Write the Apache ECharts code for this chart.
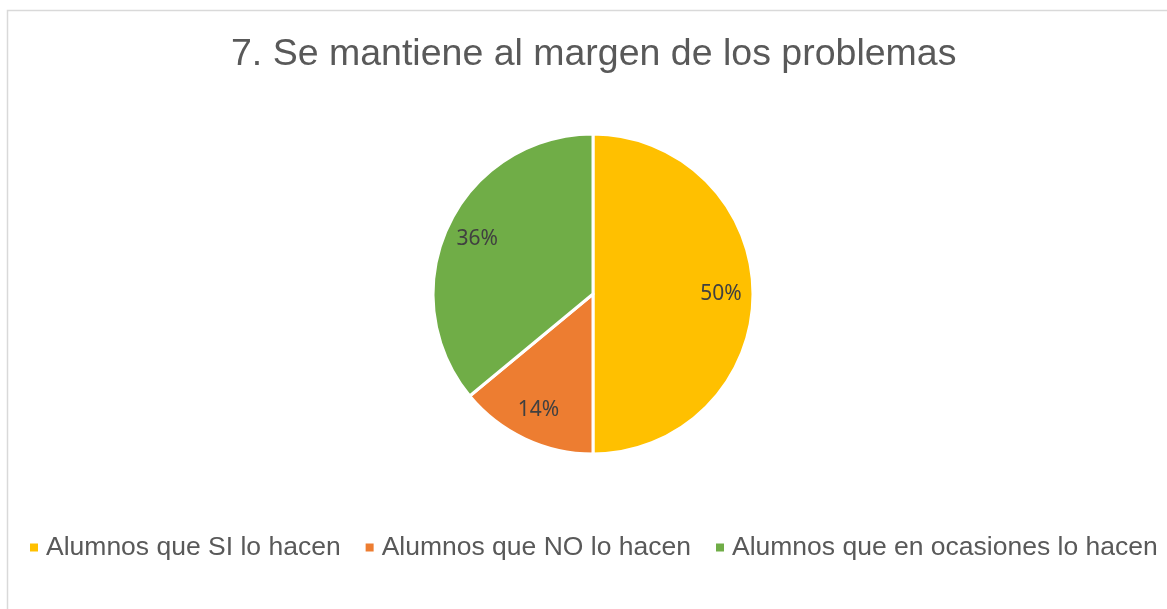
<!DOCTYPE html>
<html lang="es">
<head>
    <meta charset="UTF-8">
    <title>Se mantiene al margen de los problemas</title>
    <style>
        html, body { margin: 0; padding: 0; background: #fff; }
        #main { width: 1167px; height: 609px; }
    </style>
</head>
<body>
<div id="main"></div>
<script src="https://cdn.jsdelivr.net/npm/echarts@6/dist/echarts.min.js"></script>
<script>
    // datos del grafico
    var categorias = ['Alumnos que SI lo hacen', 'Alumnos que NO lo hacen', 'Alumnos que en ocasiones lo hacen'];
    var valores = [50, 14, 36];
    var colores = ['#FFC000', '#ED7D31', '#70AD47'];

    var myChart = echarts.init(document.getElementById('main'));

    var datos = [];
    for (var i = 0; i < categorias.length; i++) {
        datos.push({ value: valores[i], name: categorias[i] });
    }

    var option = {
        color: colores,
        animation: false,
        graphic: [{
            type: 'rect',
            shape: { x: 7.5, y: 10.5, width: 1200, height: 700 },
            style: { fill: 'none', stroke: '#D9D9D9', lineWidth: 1.5 },
            silent: true
        }],
        title: {
            text: '7. Se mantiene al margen de los problemas',
            left: 226,
            top: 31,
            textStyle: {
                fontFamily: 'Liberation Sans',
                fontSize: 37.5,
                fontWeight: 'normal',
                color: '#595959'
            }
        },
        legend: {
            data: categorias,
            left: 25,
            top: 529,
            icon: 'rect',
            itemWidth: 8,
            itemHeight: 8,
            itemGap: 25,
            itemStyle: { borderWidth: 0 },
            textStyle: {
                fontFamily: 'Liberation Sans',
                fontSize: 26.5,
                color: '#595959',
                padding: [0, 0, 0, 3]
            }
        },
        series: [
            {
                // tarta principal
                type: 'pie',
                center: [593, 294],
                radius: [0, 160],
                startAngle: 90,
                clockwise: true,
                silent: true,
                label: { show: false },
                labelLine: { show: false },
                itemStyle: { borderColor: '#fff', borderWidth: 3 },
                data: datos
            },
            {
                // solo etiquetas de porcentaje
                type: 'pie',
                center: [593, 294],
                radius: [90, 160],
                startAngle: 90,
                clockwise: true,
                silent: true,
                itemStyle: { color: 'rgba(0,0,0,0)', borderWidth: 0 },
                label: {
                    show: true,
                    position: 'inside',
                    formatter: '{d}%',
                    fontFamily: 'Noto Sans',
                    fontSize: 21,
                    color: '#404040'
                },
                labelLine: { show: false },
                data: datos
            }
        ]
    };
    myChart.setOption(option);
</script>
</body>
</html>
